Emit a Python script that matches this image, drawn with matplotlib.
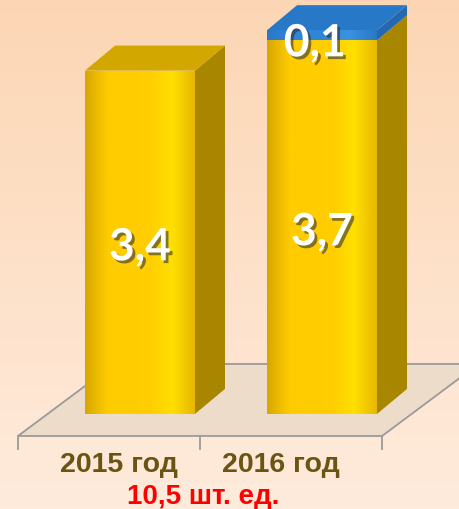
import numpy as np
import matplotlib.pyplot as plt
from matplotlib.patches import Polygon
import matplotlib.patheffects as pe

# data
years = ['2015 год', '2016 год']
base_vals = [3.4, 3.7]
extra_vals = [0.0, 0.1]
base_labels = ['3,4', '3,7']
extra_labels = ['', '0,1']
footer = '10,5 шт. ед.'

xpos = np.arange(len(years))
width = 0.604
dx, dy = 0.165, 0.248          # bar depth offset (data units)

fig = plt.figure(figsize=(4.6, 5.1), dpi=100)
ax = fig.add_axes([0, 0, 1, 1])
ax.set_xlim(-0.769, 1.758)
ax.set_ylim(-0.941, 4.109)
ax.axis('off')

# background gradient
grad = np.linspace(0, 1, 256).reshape(-1, 1)
top_c = np.array([0xFC, 0xD6, 0xB4]) / 255
bot_c = np.array([0xFF, 0xEB, 0xDC]) / 255
bg = bot_c * (1 - grad[..., None]) + top_c * grad[..., None]
bg = np.repeat(bg, 2, axis=1)
ax.imshow(bg, extent=(-0.769, 1.758, -0.941, 4.109), origin='lower',
          aspect='auto', zorder=0)

# floor
fl, fr, fy = -0.670, 1.330, -0.218
fdx, fdy = 0.53, 0.713
floor = Polygon([(fl, fy), (fr, fy), (fr + fdx, fy + fdy), (fl + fdx, fy + fdy)],
                closed=True, facecolor='#EEDCCA', edgecolor='#9A9A9A', lw=1.3, zorder=1)
ax.add_patch(floor)
for tx in [fl, (fl + fr) / 2, fr]:
    ax.plot([tx, tx], [fy, fy - 0.13], color='#9A9A9A', lw=1.3, zorder=1)


def box(x0, x1, y0, y1, side, top, draw_top=True):
    # side face and top face of a 3d block
    ax.add_patch(Polygon([(x1, y0), (x1 + dx, y0 + dy), (x1 + dx, y1 + dy), (x1, y1)],
                         closed=True, facecolor=side, edgecolor='none', zorder=3))
    if draw_top:
        ax.add_patch(Polygon([(x0, y1), (x0 + dx, y1 + dy), (x1 + dx, y1 + dy), (x1, y1)],
                             closed=True, facecolor=top, edgecolor='none', zorder=3))


yel_cmap = plt.matplotlib.colors.LinearSegmentedColormap.from_list(
    'yel', ['#D9A800', '#FFCC00', '#FFCC00', '#FFCE00', '#FFE000', '#E8B800'])
blu_cmap = plt.matplotlib.colors.LinearSegmentedColormap.from_list(
    'blu', ['#2A78C8', '#2F86D8', '#2F86D8', '#3A92E0', '#2A78C8'])

for i in range(len(years)):
    x0, x1 = xpos[i] - width / 2, xpos[i] + width / 2
    b = base_vals[i]
    e = extra_vals[i]
    box(x0, x1, 0, b, '#A88600', '#D2A800', draw_top=(e == 0))
    rect = ax.bar(xpos[i], b, width, color='#FFCC00', zorder=4)[0]
    g = ax.imshow(np.linspace(0, 1, 64).reshape(1, -1), cmap=yel_cmap,
                  extent=(x0, x1, 0, b), aspect='auto', zorder=4.5)
    g.set_clip_path(rect)
    if e > 0:
        box(x0, x1, b, b + e, '#2468B0', '#2878C8')
        r2 = ax.bar(xpos[i], e, width, bottom=b, color='#2F86D8', zorder=4)[0]
        g2 = ax.imshow(np.linspace(0, 1, 64).reshape(1, -1), cmap=blu_cmap,
                       extent=(x0, x1, b, b + e), aspect='auto', zorder=4.5)
        g2.set_clip_path(r2)

shad = [pe.withSimplePatchShadow(offset=(2, -2), shadow_rgbFace='#333333', alpha=0.6)]
for i in range(len(years)):
    t = ax.text(xpos[i], base_vals[i] / 2 - 0.05, base_labels[i], ha='center', va='center',
                color='white', fontsize=32, fontweight='bold', family='Lato', zorder=6)
    t.set_path_effects(shad)
    if extra_labels[i]:
        t = ax.text(xpos[i] - 0.04, base_vals[i] - 0.03, extra_labels[i], ha='center',
                    va='center', color='white', fontsize=32, fontweight='bold',
                    family='Lato', zorder=6)
        t.set_path_effects(shad)

label_x = [-0.115, 0.775]
for lx, lab in zip(label_x, years):
    ax.text(lx, -0.5, lab, ha='center', va='center', color='#6B5412',
            fontsize=20.5, fontweight='bold', family='Liberation Sans', zorder=6)
ax.text(0.346, -0.81, footer, ha='center', va='center', color='#FF0000',
        fontsize=20, fontweight='bold', family='Liberation Sans', zorder=6)

plt.savefig('out.png', dpi=100)
